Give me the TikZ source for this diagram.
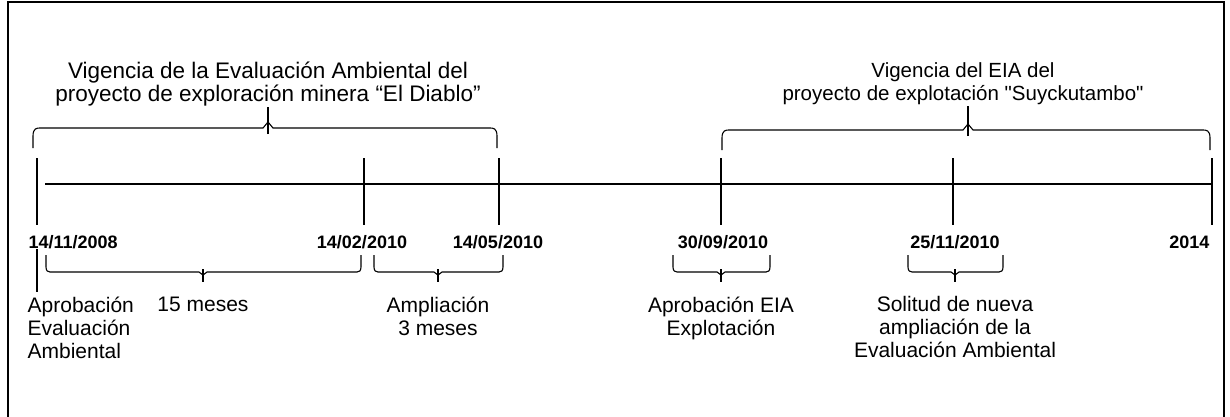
\documentclass[tikz,border=0pt]{standalone}
\usepackage{fontspec}
\setmainfont{Liberation Sans}
\newfontfamily\plainq{Liberation Sans}
\begin{document}
\begin{tikzpicture}[x=1pt,y=-1pt,
  line width=1.3pt,
  txt/.style={font=\fontsize{21}{23}\selectfont, align=center, inner sep=0pt},
  toptxt/.style={font=\fontsize{#1}{23}\selectfont, align=center, inner sep=0pt},
  datel/.style={font=\bfseries\fontsize{18}{20}\selectfont, inner sep=0pt},
  tick/.style={line width=1.6pt},
  brc/.style={line width=1.1pt},
]
\useasboundingbox (0,0) rectangle (1230,416);
% frame
\draw[line width=2pt] (8,420) -- (8,2) -- (1224,2) -- (1224,420);

% timeline
\coordinate (L) at (45,184);
\coordinate (R) at (1213,184);
\draw (L) -- (R);
\foreach \n/\x in {a/37,b/364,c/499,d/721,e/953,f/1212}{
  \coordinate (\n top) at (\x,158);
  \coordinate (\n bot) at (\x,225);
  \draw[tick] (\n top) -- (\n bot);
}

% dates
\node[datel, anchor=west] (da) at (28,242) {14/11/2008};
\node[datel] (db) at (362,242) {14/02/2010};
\node[datel] (dc) at (498,242) {14/05/2010};
\node[datel] (dd) at (723,242) {30/09/2010};
\node[datel] (de) at (955,242) {25/11/2010};
\node[datel, anchor=east] (df) at (1210,242) {2014};

% top texts
\node[toptxt=22.5] (t1) at (268,84) {Vigencia de la Evaluación Ambiental del\\proyecto de exploración minera “El Diablo”};
\node[toptxt=20.5] (t2) at (963,84) {Vigencia del EIA del\\proyecto de explotación {\plainq"}Suyckutambo{\plainq"}};

% top braces
\coordinate (b1l) at (33,148); \coordinate (b1r) at (497,148); \coordinate (b1m) at (268,128);
\draw[brc] (b1l) -- ++(0,-12) .. controls ++(0,-8) and ++(-3,0) .. ++(7,-8) -- ([xshift=-5pt]b1m) -- ++(5,-6) -- ++(5,6) -- ([xshift=-7pt]b1r |- b1m) .. controls ++(3,0) and ++(0,-8) .. ++(7,8) -- (b1r);
\draw[brc] ([yshift=-6pt]b1m) -- (t1.south);

\coordinate (b2l) at (722,150); \coordinate (b2r) at (1210,150); \coordinate (b2m) at (968,130);
\draw[brc] (b2l) -- ++(0,-12) .. controls ++(0,-8) and ++(-3,0) .. ++(7,-8) -- ([xshift=-5pt]b2m) -- ++(5,-6) -- ++(5,6) -- ([xshift=-7pt]b2r |- b2m) .. controls ++(3,0) and ++(0,-8) .. ++(7,8) -- (b2r);
\draw[brc] ([yshift=-6pt]b2m) -- (b2m |- t2.south);

% bottom texts
\node[txt, align=left, anchor=north west] (n1) at (27,296) {Aprobación\\Evaluación\\Ambiental};
\node[txt, anchor=north] (n2) at (203,296) {15 meses};
\node[txt, anchor=north] (n3) at (438,296) {Ampliación\\3 meses};
\node[txt, anchor=north] (n4) at (721,296) {Aprobación EIA\\Explotación};
\node[txt, anchor=north] (n5) at (955,296) {Solitud de nueva\\ampliación de la\\Evaluación Ambiental};

% marker under first date
\coordinate (m1) at (37,249); \coordinate (m2) at (37,292);
\draw[brc] (m1) -- (m2);

% lower braces
\foreach \l/\r/\m in {46/361/203, 374/503/438, 673/770/721, 908/1003/955}{
  \coordinate (lbl) at (\l,255); \coordinate (lbr) at (\r,255); \coordinate (lbm) at (\m,272);
  \draw[brc] (lbl) -- ++(0,12) .. controls ++(0,4) and ++(-2,0) .. ++(4,5) -- ([xshift=-4pt]lbm) -- ++(4,3) -- ++(4,-3) -- ([xshift=-4pt]lbr |- lbm) .. controls ++(2,0) and ++(0,4) .. ++(4,-5) -- (lbr);
  \draw[brc] ([yshift=3pt]lbm) -- ++(0,13);
}
\end{tikzpicture}
\end{document}
